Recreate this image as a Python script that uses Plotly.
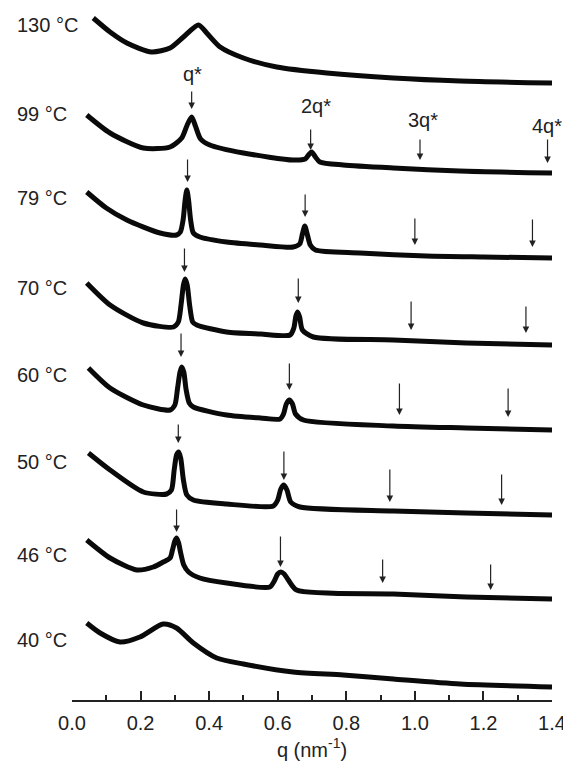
import plotly.graph_objects as go

# Temperatures (labels) and stacked SAXS curves (q in nm^-1, stacked intensity in arbitrary units)
temps = ["130 °C", "99 °C", "79 °C", "70 °C", "60 °C", "50 °C", "46 °C", "40 °C"]
label_y = [675, 586, 502, 412, 325, 238, 145, 60]

q_130 = [0.062, 0.111, 0.160, 0.232, 0.286, 0.325, 0.369, 0.393, 0.432, 0.50, 0.597, 0.743, 0.937, 1.132, 1.40]
I_130 = [682, 668, 657, 648, 652, 663, 675, 667, 653, 642, 633, 627, 622, 619, 617]

q_99 = [0.043, 0.111, 0.208, 0.286, 0.320, 0.336, 0.349, 0.360, 0.375, 0.402, 0.50, 0.645, 0.680, 0.690, 0.699, 0.710, 0.723, 0.791, 0.937, 1.13, 1.40]
I_99 = [585, 567, 552, 553, 562, 575, 583, 574, 561, 555, 547, 540, 541, 545, 548, 543, 538, 535, 532, 529, 527]

q_79 = [0.043, 0.10, 0.16, 0.257, 0.305, 0.316, 0.324, 0.330, 0.335, 0.340, 0.346, 0.354, 0.373, 0.451, 0.55, 0.645, 0.664, 0.672, 0.679, 0.686, 0.695, 0.710, 0.84, 1.034, 1.20, 1.40]
I_79 = [508, 492, 480, 467, 465, 468, 480, 500, 510, 500, 480, 467, 463, 458, 455, 453, 456, 466, 474, 466, 455, 450, 447, 444, 443, 442]

q_70 = [0.043, 0.111, 0.208, 0.296, 0.310, 0.318, 0.325, 0.330, 0.336, 0.343, 0.352, 0.364, 0.451, 0.55, 0.636, 0.647, 0.653, 0.658, 0.664, 0.672, 0.704, 0.937, 1.15, 1.40]
I_70 = [417, 395, 377, 373, 378, 395, 415, 421, 415, 395, 378, 375, 368, 366, 365, 372, 384, 388, 383, 370, 363, 360, 357, 355]

q_60 = [0.048, 0.111, 0.208, 0.286, 0.300, 0.308, 0.315, 0.320, 0.326, 0.333, 0.342, 0.354, 0.451, 0.55, 0.607, 0.617, 0.625, 0.634, 0.643, 0.652, 0.675, 0.937, 1.15, 1.40]
I_60 = [332, 312, 295, 290, 295, 312, 328, 333, 328, 310, 297, 293, 285, 282, 281, 286, 296, 300, 296, 286, 280, 274, 272, 270]

q_50 = [0.048, 0.111, 0.208, 0.276, 0.290, 0.298, 0.305, 0.311, 0.317, 0.325, 0.335, 0.354, 0.451, 0.587, 0.600, 0.609, 0.618, 0.627, 0.638, 0.665, 0.937, 1.15, 1.40]
I_50 = [247, 230, 208, 206, 210, 230, 245, 248, 242, 220, 205, 200, 196, 194, 200, 211, 215, 210, 198, 193, 189, 187, 185]

q_46 = [0.043, 0.111, 0.189, 0.237, 0.266, 0.286, 0.293, 0.300, 0.305, 0.311, 0.317, 0.326, 0.340, 0.373, 0.451, 0.577, 0.590, 0.600, 0.609, 0.619, 0.631, 0.655, 0.937, 1.15, 1.40]
I_46 = [160, 142, 130, 133, 138, 142, 150, 159, 162, 157, 147, 135, 128, 122, 117, 113, 119, 126, 128, 126, 120, 110, 106, 103, 101]

q_40 = [0.043, 0.082, 0.14, 0.198, 0.266, 0.305, 0.354, 0.422, 0.50, 0.645, 0.791, 0.937, 1.132, 1.40]
I_40 = [77, 67, 58, 63, 76, 72, 57, 42, 36, 28, 25, 21, 16, 13]

curves_q = [q_130, q_99, q_79, q_70, q_60, q_50, q_46, q_40]
curves_I = [I_130, I_99, I_79, I_70, I_60, I_50, I_46, I_40]

# Peak-position arrows: (q, tail value, tip value)
arrows_99 = [(0.349, 610, 591), (0.696, 572, 550), (1.015, 562, 540), (1.387, 562, 537)]
arrows_79 = [(0.337, 542, 518), (0.680, 507, 483), (1.000, 483, 455), (1.343, 482, 453)]
arrows_70 = [(0.328, 453, 428), (0.660, 423, 397), (0.989, 400, 370), (1.324, 395, 367)]
arrows_60 = [(0.318, 368, 343), (0.634, 338, 310), (0.955, 318, 285), (1.272, 313, 283)]
arrows_50 = [(0.310, 277, 257), (0.618, 250, 220), (0.927, 232, 198), (1.253, 227, 195)]
arrows_46 = [(0.305, 192, 168), (0.608, 165, 133), (0.906, 142, 117), (1.221, 137, 110)]
all_arrows = arrows_99 + arrows_79 + arrows_70 + arrows_60 + arrows_50 + arrows_46

order_labels = ["q*", "2q*", "3q*", "4q*"]
order_q = [0.352, 0.712, 1.024, 1.385]
order_y = [626, 594, 580, 574]

tick_vals = [0.0, 0.2, 0.4, 0.6, 0.8, 1.0, 1.2, 1.4]

FONT = "Liberation Sans, Arial, sans-serif"
TXT = "#222222"

# The page body adds an 8px offset; the figure is sized to fit the window.
W, H = 563, 769
plot_left, plot_right = 64, 544
plot_h = 692

fig = go.Figure()
for q, I, name in zip(curves_q, curves_I, temps):
    fig.add_trace(go.Scatter(x=q, y=I, mode="lines", name=name,
                             line=dict(color="#0a0a0a", width=5, shape="spline", smoothing=0.7),
                             showlegend=False, hoverinfo="skip"))

annotations = []
label_x = (7 - plot_left) / (plot_right - plot_left)
for name, yv in zip(temps, label_y):
    annotations.append(dict(text=name, x=label_x, xref="paper", y=yv, yref="y", showarrow=False,
                            xanchor="left", yanchor="middle",
                            font=dict(size=20, color=TXT, family=FONT)))

for (qa, tail, tip) in all_arrows:
    annotations.append(dict(text="", x=qa, y=tip, xref="x", yref="y", ax=qa, ay=tail,
                            axref="x", ayref="y", showarrow=True, arrowhead=2,
                            arrowsize=1.1, arrowwidth=1.2, arrowcolor="#222222", standoff=0))

for t, qx, yv in zip(order_labels, order_q, order_y):
    annotations.append(dict(text=t, x=qx, y=yv, xref="x", yref="y", showarrow=False,
                            xanchor="center", yanchor="middle",
                            font=dict(size=20, color=TXT, family=FONT)))

fig.update_layout(
    width=W, height=H,
    margin=dict(l=plot_left, r=W - plot_right, t=0, b=H - plot_h),
    paper_bgcolor="white", plot_bgcolor="white",
    annotations=annotations,
    xaxis=dict(range=[0, 1.4], tickvals=tick_vals, tickformat=".1f",
               showline=True, linecolor="#222222", linewidth=1.5,
               ticks="inside", ticklen=9, tickwidth=1.5, tickcolor="#222222",
               minor=dict(dtick=0.1, ticks="inside", ticklen=5, tickwidth=1.5, tickcolor="#222222"),
               showgrid=False, zeroline=False, mirror=False,
               tickfont=dict(size=20, color=TXT, family=FONT),
               ticklabelstandoff=4,
               title=dict(text="q (nm<sup>-1</sup>)", standoff=10,
                          font=dict(size=20, color=TXT, family=FONT))),
    yaxis=dict(range=[0, plot_h], visible=False, fixedrange=True),
)

fig.write_html("out.html")
